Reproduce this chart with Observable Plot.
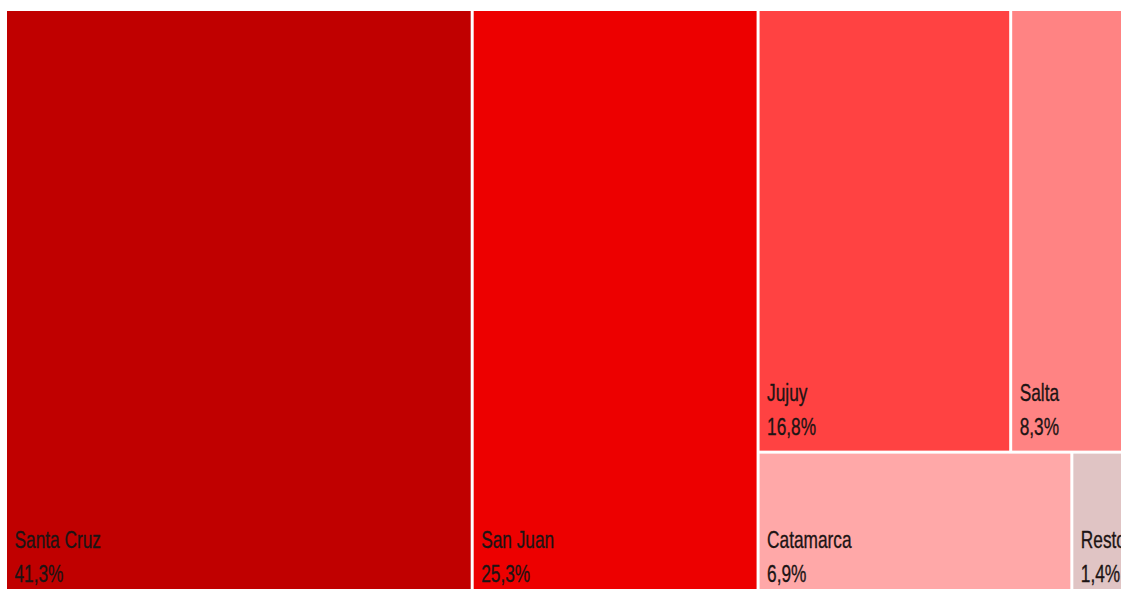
<!DOCTYPE html>
<html>
<head>
<meta charset="utf-8">
<script src="https://cdn.jsdelivr.net/npm/d3@7"></script>
<script src="https://cdn.jsdelivr.net/npm/@observablehq/plot@0.6"></script>
<style>
  html, body { margin: 0; padding: 0; background: #ffffff; overflow: hidden; }
  #chart svg { display: block; }
</style>
</head>
<body>
<div id="chart"></div>
<script>
// Data
const provincias = ["Santa Cruz", "San Juan", "Jujuy", "Salta", "Catamarca", "Resto"];
const participacion = [41.3, 25.3, 16.8, 8.3, 6.9, 1.4];
const colores = ["#C00000", "#ED0000", "#FF4242", "#FF8383", "#FFA8A8", "#E0C4C4"];
// Grouping of the tiles (column, then row within the last column)
const columna = ["c1", "c2", "c3", "c3", "c3", "c3"];
const fila = [null, null, "r1", "r1", "r2", "r2"];

// Build hierarchy
const rootData = {name: "root", children: []};
provincias.forEach((p, i) => {
  let col = rootData.children.find(d => d.name === columna[i]);
  if (!col) { col = {name: columna[i], children: []}; rootData.children.push(col); }
  if (fila[i] === null) {
    col.children.push({name: p, value: participacion[i], color: colores[i]});
  } else {
    let row = col.children.find(d => d.name === fila[i]);
    if (!row) { row = {name: fila[i], children: []}; col.children.push(row); }
    row.children.push({name: p, value: participacion[i], color: colores[i]});
  }
});

const W = 1127, H = 586;
const root = d3.hierarchy(rootData).sum(d => d.value || 0);
d3.treemap().tile(d3.treemapSliceDice).size([W, H]).paddingInner(3).round(false)(root);

const fmt = v => v.toFixed(1).replace(".", ",") + "%";
const tiles = root.leaves().map(l => ({
  name: l.data.name,
  value: l.data.value,
  color: l.data.color,
  x0: l.x0, x1: l.x1, y0: l.y0, y1: l.y1,
  label: fmt(l.data.value)
}));

const font = "'Liberation Sans', Arial, sans-serif";
const squeeze = 0.72;

const chart = Plot.plot({
  width: 1121,
  height: 589,
  margin: 0,
  x: {domain: [0, W], range: [7, 7 + W], axis: null},
  y: {domain: [0, H], range: [11, 11 + H], axis: null},
  style: {background: "#ffffff", overflow: "hidden"},
  marks: [
    Plot.rect(tiles, {x1: "x0", x2: "x1", y1: "y0", y2: "y1", fill: "color"}),
    Plot.text(tiles, {
      x: "x0", y: "y1", text: "name", dx: 7, dy: -50,
      textAnchor: "start", lineAnchor: "bottom",
      fontSize: 24, fontFamily: font, fill: "#1c1414",
      stroke: "#1c1414", strokeWidth: 0.35, className: "lbl"
    }),
    Plot.text(tiles, {
      x: "x0", y: "y1", text: "label", dx: 7, dy: -16,
      textAnchor: "start", lineAnchor: "bottom",
      fontSize: 24, fontFamily: font, fill: "#1c1414",
      stroke: "#1c1414", strokeWidth: 0.35, className: "lbl"
    })
  ]
});
document.getElementById("chart").append(chart);

// Narrow the label glyphs (condensed look of the original font)
chart.querySelectorAll(".lbl text").forEach(t => {
  const tr = t.getAttribute("transform");
  if (tr) {
    t.setAttribute("transform", tr + ` scale(${squeeze},1)`);
  } else {
    const x = +t.getAttribute("x") || 0;
    t.setAttribute("x", x / squeeze);
    t.setAttribute("transform", `scale(${squeeze},1)`);
  }
});
</script>
</body>
</html>
